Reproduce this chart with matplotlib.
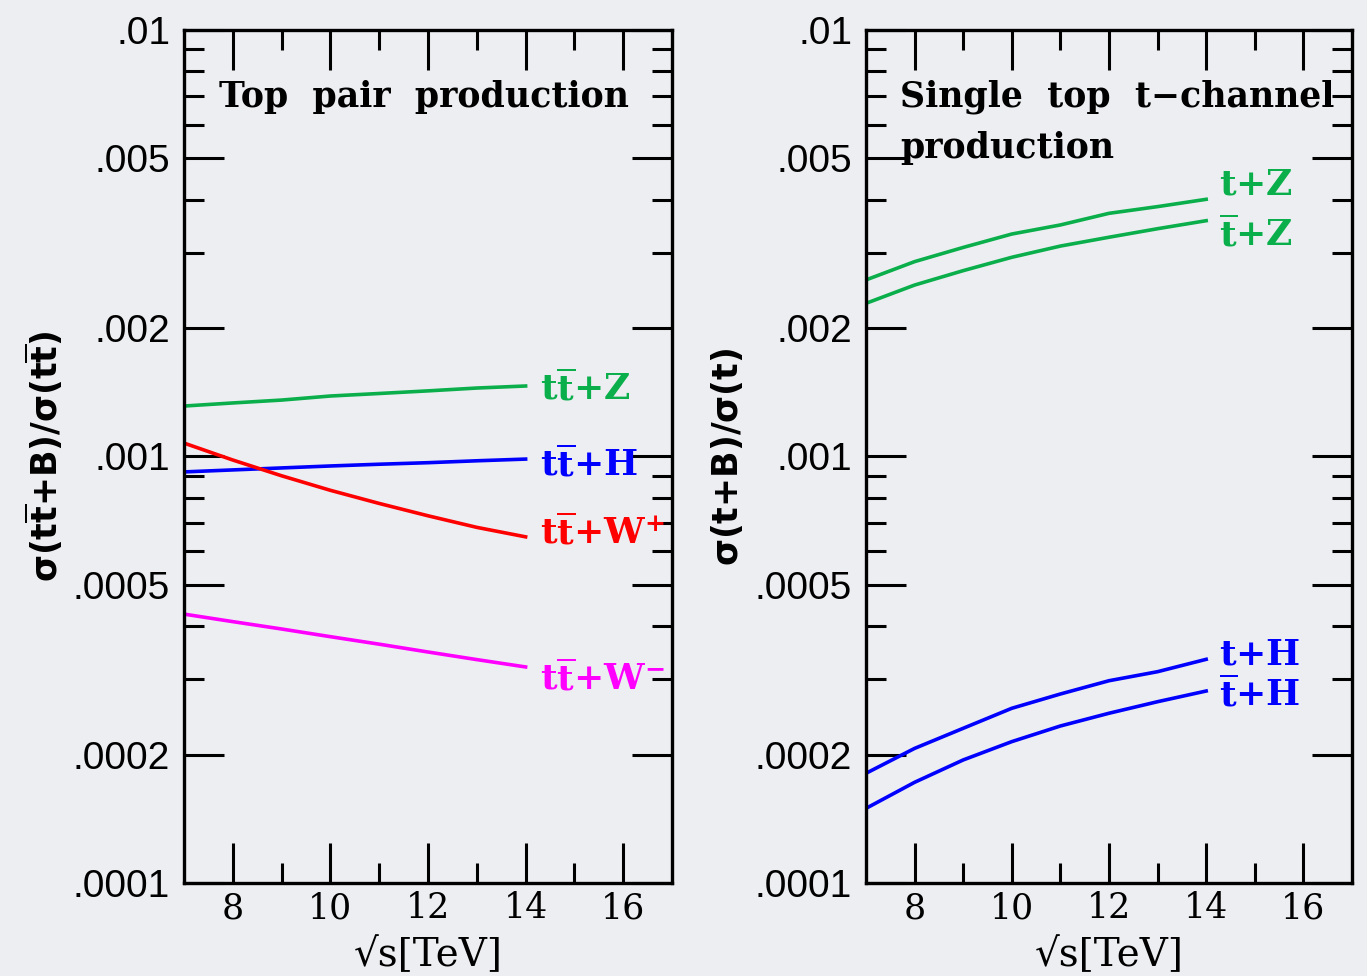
import matplotlib.pyplot as plt

BG = '#edeef2'
GREEN = '#0aaf4b'

energies = [7, 8, 9, 10, 11, 12, 13, 14]

# top pair production: sigma(tt+B)/sigma(tt)
ttz = [1.313e-3, 1.335e-3, 1.356e-3, 1.386e-3, 1.405e-3, 1.425e-3, 1.447e-3, 1.463e-3]
tth = [0.920e-3, 0.930e-3, 0.940e-3, 0.950e-3, 0.959e-3, 0.967e-3, 0.977e-3, 0.986e-3]
ttwp = [1.075e-3, 0.981e-3, 0.901e-3, 0.833e-3, 0.776e-3, 0.726e-3, 0.682e-3, 0.648e-3]
ttwm = [0.427e-3, 0.410e-3, 0.394e-3, 0.378e-3, 0.363e-3, 0.348e-3, 0.334e-3, 0.321e-3]

# single top t-channel: sigma(t+B)/sigma(t)
tz = [2.594e-3, 2.863e-3, 3.091e-3, 3.323e-3, 3.490e-3, 3.716e-3, 3.853e-3, 4.008e-3]
tbarz = [2.286e-3, 2.523e-3, 2.727e-3, 2.931e-3, 3.114e-3, 3.266e-3, 3.420e-3, 3.571e-3]
th = [1.808e-4, 2.068e-4, 2.305e-4, 2.568e-4, 2.774e-4, 2.980e-4, 3.129e-4, 3.345e-4]
tbarh = [1.496e-4, 1.722e-4, 1.943e-4, 2.145e-4, 2.334e-4, 2.500e-4, 2.661e-4, 2.819e-4]

y_major = [1e-4, 2e-4, 5e-4, 1e-3, 2e-3, 5e-3, 1e-2]
y_major_labels = ['.0001', '.0002', '.0005', '.001', '.002', '.005', '.01']
y_minor = [k * 10.0 ** e for e in (-4, -3) for k in (3, 4, 6, 7, 8, 9)]
x_major = [8, 10, 12, 14, 16]
x_minor = [9, 11, 13, 15]


def style_axis(ax):
    ax.set_facecolor(BG)
    ax.set_yscale('log')
    ax.set_xlim(7, 17)
    ax.set_ylim(1e-4, 1e-2)
    ax.set_yticks(y_major)
    ax.set_yticklabels(y_major_labels, family='Liberation Sans', fontsize=28)
    ax.set_yticks(y_minor, minor=True)
    ax.yaxis.set_minor_formatter(plt.NullFormatter())
    ax.set_xticks(x_major)
    ax.set_xticklabels([str(v) for v in x_major], family='DejaVu Serif', fontsize=25)
    ax.set_xticks(x_minor, minor=True)
    ax.tick_params(which='both', direction='in', top=True, right=True, width=2.2, color='black')
    ax.tick_params(which='major', length=29, pad=10)
    ax.tick_params(which='minor', length=14.5)
    ax.tick_params(axis='x', which='major', pad=6)
    for sp in ax.spines.values():
        sp.set_linewidth(2.4)
    ax.set_xlabel('\u221as[TeV]', family='DejaVu Serif', fontsize=28, labelpad=8)


fig = plt.figure(figsize=(13.67, 9.76), dpi=100, facecolor=BG)
ax1 = fig.add_axes([0.1346, 0.0953, 0.357, 0.874])
ax2 = fig.add_axes([0.6335, 0.0953, 0.3555, 0.874])

for ax in (ax1, ax2):
    style_axis(ax)

lw = 2.6
lab = dict(fontsize=26, va='baseline', ha='left', math_fontfamily='dejavuserif')
title = dict(family='DejaVu Serif', fontweight='bold', fontsize=25, va='center', ha='left')

# left panel
ax1.plot(energies, ttz, color=GREEN, lw=lw)
ax1.plot(energies, tth, color='#0000ff', lw=lw)
ax1.plot(energies, ttwp, color='#ff0000', lw=lw)
ax1.plot(energies, ttwm, color='#ff00ff', lw=lw)
ax1.text(0.7286, 0.5662, r'$\mathbf{t\overline{t}{+}Z}$', color=GREEN, transform=ax1.transAxes, **lab)
ax1.text(0.7286, 0.4771, r'$\mathbf{t\overline{t}{+}H}$', color='#0000ff', transform=ax1.transAxes, **lab)
ax1.text(0.7286, 0.3974, r'$\mathbf{t\overline{t}{+}W^{+}}$', color='#ff0000', transform=ax1.transAxes, **lab)
ax1.text(0.7286, 0.2263, r'$\mathbf{t\overline{t}{+}W^{-}}$', color='#ff00ff', transform=ax1.transAxes, **lab)
ax1.text(0.071, 0.9215, 'Top  pair  production', transform=ax1.transAxes, **title)
ax1.set_ylabel(r'$\mathbf{\sigma(t\overline{t}{+}B)/\sigma(t\overline{t})}$', fontsize=25,
               math_fontfamily='dejavusans', va='center')
ax1.yaxis.set_label_coords(-0.288, 0.5)

# right panel
ax2.plot(energies, tz, color=GREEN, lw=lw)
ax2.plot(energies, tbarz, color=GREEN, lw=lw)
ax2.plot(energies, th, color='#0000ff', lw=lw)
ax2.plot(energies, tbarh, color='#0000ff', lw=lw)
ax2.text(0.7265, 0.8066, r'$\mathbf{t{+}Z}$', color=GREEN, transform=ax2.transAxes, **lab)
ax2.text(0.7265, 0.7471, r'$\mathbf{\overline{t}{+}Z}$', color=GREEN, transform=ax2.transAxes, **lab)
ax2.text(0.7265, 0.2567, r'$\mathbf{t{+}H}$', color='#0000ff', transform=ax2.transAxes, **lab)
ax2.text(0.7265, 0.2067, r'$\mathbf{\overline{t}{+}H}$', color='#0000ff', transform=ax2.transAxes, **lab)
ax2.text(0.071, 0.9215, 'Single  top  t\u2212channel', transform=ax2.transAxes, **title)
ax2.text(0.071, 0.8617, 'production', transform=ax2.transAxes, **title)
ax2.set_ylabel(r'$\mathbf{\sigma(t{+}B)/\sigma(t)}$', fontsize=25,
               math_fontfamily='dejavusans', va='center')
ax2.yaxis.set_label_coords(-0.285, 0.5)

fig.savefig('out.png', dpi=100, facecolor=BG)
